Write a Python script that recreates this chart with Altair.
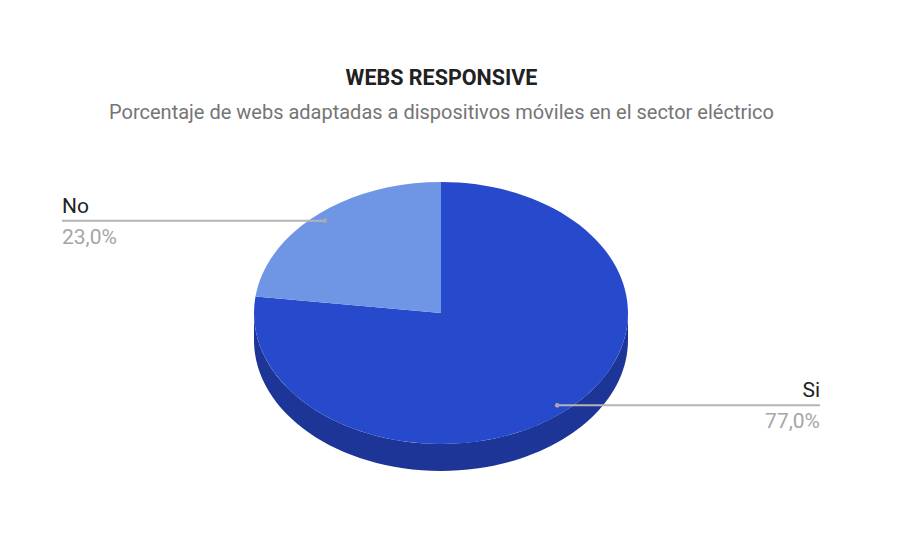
import altair as alt
import pandas as pd

# ---------------- data ----------------
categories = ["Si", "No"]
values = [77.0, 23.0]
order = [0, 1]

title_lines = ["WEBS RESPONSIVE",
               "Porcentaje de webs adaptadas a dispositivos móviles en el sector eléctrico"]
title_kind = ["title", "subtitle"]

top_colors = ["#2749cb", "#6f96e5"]
side_colors = ["#1c3596", "#5176c4"]

df = pd.DataFrame({"cat": categories, "value": values, "order": order})
tdf = pd.DataFrame({"text": title_lines, "kind": title_kind})

# ---------------- layout constants ----------------
CX, CY = 433, 305      # centre of the pie's top face (px)
RX = 187               # horizontal radius (px)
RY = 0.70              # vertical/horizontal ratio of the tilted ellipse
DEPTH = 0.145          # thickness of the 3D side (in units of RX)
K = 0.94               # leader anchor position (fraction of radius)
LEFT_X, RIGHT_X = 54, 812
FONT = "Roboto"


def X(a):
    return f"(round(sin({a})*10000)/10000)"


def Y(a, off=0):
    return f"(round((-{RY}*cos({a})+{off})*10000)/10000)"


top_path = (
    '"M0,0 L" + ' + X("datum.a0") + ' + "," + ' + Y("datum.a0")
    + f' + " A1,{RY} 0 " + (datum.a1 - datum.a0 > PI ? 1 : 0) + " 1 " + '
    + X("datum.a1") + ' + "," + ' + Y("datum.a1") + ' + " Z"'
)

side_path = (
    '"M" + ' + X("datum.s0") + ' + "," + ' + Y("datum.s0")
    + f' + " A1,{RY} 0 0 1 " + ' + X("datum.s1") + ' + "," + ' + Y("datum.s1")
    + ' + " L" + ' + X("datum.s1") + ' + "," + ' + Y("datum.s1", DEPTH)
    + f' + " A1,{RY} 0 0 0 " + ' + X("datum.s0") + ' + "," + ' + Y("datum.s0", DEPTH)
    + ' + " Z"'
)

base = (
    alt.Chart(df)
    .transform_joinaggregate(total="sum(value)")
    .transform_window(cum="sum(value)", sort=[alt.SortField("order", order="ascending")],
                      frame=[None, 0])
    .transform_calculate(
        a1="2*PI*datum.cum/datum.total",
        a0="2*PI*(datum.cum-datum.value)/datum.total",
    )
    .transform_calculate(
        mid="(datum.a0+datum.a1)/2",
        s0="max(datum.a0, PI/2)",
        s1="min(datum.a1, 3*PI/2)",
        pct="replace(format(datum.value/datum.total*100, '.1f'), '.', ',') + '%'",
    )
    .transform_calculate(
        top=top_path,
        side=side_path,
        dx=f"{CX} + {K}*{RX}*sin(datum.mid)",
        dy=f"{CY} - {K}*{RX}*{RY}*cos(datum.mid)",
        lx=f"sin(datum.mid) < 0 ? {LEFT_X} : {RIGHT_X}",
        left="sin(datum.mid) < 0",
    )
)

SIZE = (2 * RX) ** 2

side = base.transform_filter("datum.s1 > datum.s0").mark_point(
    filled=True, opacity=1, strokeWidth=0
).encode(
    x=alt.value(CX), y=alt.value(CY),
    shape=alt.Shape("side:N", scale=None, legend=None),
    size=alt.value(SIZE),
    color=alt.Color("cat:N", scale=alt.Scale(domain=categories, range=side_colors), legend=None),
)

top = base.mark_point(filled=True, opacity=1, strokeWidth=0).encode(
    x=alt.value(CX), y=alt.value(CY),
    shape=alt.Shape("top:N", scale=None, legend=None),
    size=alt.value(SIZE),
    color=alt.Color("cat:N", scale=alt.Scale(domain=categories, range=top_colors), legend=None),
)

leader = base.mark_rule(color="#b4b4b4", strokeWidth=2).encode(
    x=alt.X("dx:Q", scale=None, axis=None),
    x2="lx:Q",
    y=alt.Y("dy:Q", scale=None, axis=None),
)

dot = base.mark_circle(color="#a8a8a8", opacity=1, size=22).encode(
    x=alt.X("dx:Q", scale=None, axis=None),
    y=alt.Y("dy:Q", scale=None, axis=None),
)


def labels(side_filter, align):
    b = base.transform_filter(side_filter)
    name = b.mark_text(align=align, baseline="alphabetic", font=FONT, fontSize=21,
                       color="#222222").encode(
        x=alt.X("lx:Q", scale=None, axis=None),
        y=alt.Y("ny:Q", scale=None, axis=None),
        text="cat:N",
    ).transform_calculate(ny="datum.dy - 8")
    pct = b.mark_text(align=align, baseline="alphabetic", font=FONT, fontSize=21,
                      color="#a6a6a6").encode(
        x=alt.X("lx:Q", scale=None, axis=None),
        y=alt.Y("py:Q", scale=None, axis=None),
        text="pct:N",
    ).transform_calculate(py="datum.dy + 23")
    return [name, pct]


tbase = alt.Chart(tdf)
title = tbase.transform_filter("datum.kind == 'title'").mark_text(
    align="center", baseline="alphabetic", font=FONT, fontSize=21.5, fontWeight="bold",
    color="#212121"
).encode(x=alt.value(433.5), y=alt.value(77), text="text:N")
subtitle = tbase.transform_filter("datum.kind == 'subtitle'").mark_text(
    align="center", baseline="alphabetic", font=FONT, fontSize=20, color="#757575"
).encode(x=alt.value(433.5), y=alt.value(111), text="text:N")

chart = alt.layer(
    side, top, leader, dot,
    *labels("datum.left", "left"),
    *labels("!datum.left", "right"),
    title, subtitle,
).resolve_scale(color="independent").properties(
    width=884, height=522, padding=0, autosize="none", background="white"
).configure_view(stroke=None)

chart.save("out.html", embed_options={"renderer": "svg", "actions": False})
